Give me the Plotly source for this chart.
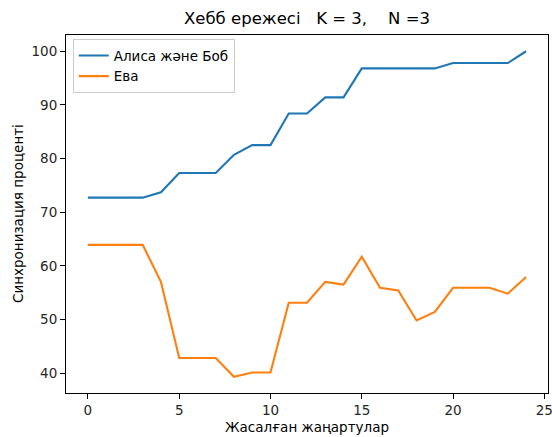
import plotly.graph_objects as go

updates = list(range(25))
alice_bob = [72.7, 72.7, 72.7, 72.7, 73.7, 77.3, 77.3, 77.3, 80.7, 82.5, 82.5,
             88.4, 88.4, 91.4, 91.4, 96.8, 96.8, 96.8, 96.8, 96.8, 97.8, 97.8,
             97.8, 97.8, 100.0]
eve = [63.9, 63.9, 63.9, 63.9, 57.0, 42.8, 42.8, 42.8, 39.3, 40.1, 40.1,
       53.1, 53.1, 57.0, 56.5, 61.7, 55.9, 55.4, 49.8, 51.4, 55.9, 55.9,
       55.9, 54.8, 57.9]
series_names = ["Алиса және Боб", "Ева"]
title_text = "Хебб ережесі   K = 3,    N =3"
x_label = "Жасалған жаңартулар"
y_label = "Синхронизация проценті"
x_ticks = [0, 5, 10, 15, 20, 25]
y_ticks = [40, 50, 60, 70, 80, 90, 100]

FONT = "DejaVu Sans"
W, H = 552, 437
L, R, T, B = 66, 4, 35, 44

fig = go.Figure()
fig.add_trace(go.Scatter(x=updates, y=alice_bob, mode="lines", name=series_names[0],
                         line=dict(color="#1f77b4", width=2.1)))
fig.add_trace(go.Scatter(x=updates, y=eve, mode="lines", name=series_names[1],
                         line=dict(color="#ff7f0e", width=2.1)))

axis_common = dict(
    showline=True, linecolor="black", linewidth=1.1, mirror=True,
    ticks="outside", ticklen=5, tickwidth=1.1, tickcolor="black",
    showgrid=False, zeroline=False, automargin=False,
    ticklabeloverflow="allow",
    tickfont=dict(family=FONT, size=13.5, color="#262626"),
)

plot_w = W - L - R
plot_h = H - T - B

fig.update_layout(
    width=W, height=H,
    margin=dict(l=L, r=R, t=T, b=B, autoexpand=False),
    paper_bgcolor="white", plot_bgcolor="white",
    font=dict(family=FONT, color="black"),
    title=dict(text=title_text, x=(L + W - R) / 2 / W, xanchor="center",
               y=1 - 18 / H, yanchor="middle",
               font=dict(family=FONT, size=16.5, color="black")),
    xaxis=dict(range=[-1.2, 25.2], tickvals=x_ticks, **axis_common),
    yaxis=dict(range=[36.28, 103.03], tickvals=y_ticks, **axis_common),
    legend=dict(x=0.014, y=0.988, xanchor="left", yanchor="top",
                bgcolor="rgba(255,255,255,0.8)", bordercolor="#cccccc", borderwidth=1,
                font=dict(family=FONT, size=13.5, color="black"),
                itemwidth=30, tracegroupgap=2),
    showlegend=True,
    annotations=[
        dict(text=x_label, xref="paper", yref="paper", x=0.5,
             y=-(427 - (H - B)) / plot_h, xanchor="center", yanchor="middle",
             showarrow=False, font=dict(family=FONT, size=13.5, color="black")),
        dict(text=y_label, xref="paper", yref="paper", x=-(L - 18) / plot_w,
             y=0.5, xanchor="center", yanchor="middle", textangle=-90,
             showarrow=False, font=dict(family=FONT, size=13.5, color="black")),
    ],
)

fig.write_html("out.html", config={"displayModeBar": False},
               post_script="document.body.style.margin='0';document.body.style.overflow='hidden';")
